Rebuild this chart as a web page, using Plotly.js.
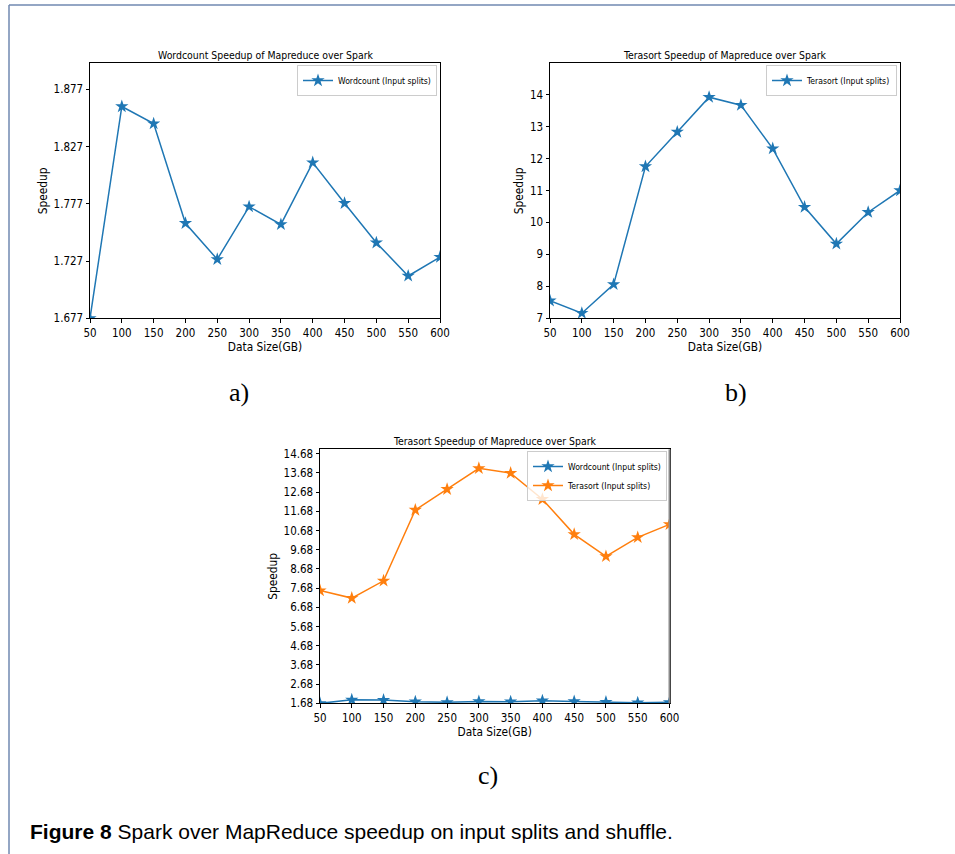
<!DOCTYPE html>
<html><head><meta charset="utf-8">
<script src="https://cdn.plot.ly/plotly-3.0.1.min.js"></script>
<style>html,body{margin:0;padding:0;background:#fff;}#chart{width:955px;height:854px;}</style>
</head><body><div id="chart"></div><script>
// ---- data ----
const dataSizes = [50, 100, 150, 200, 250, 300, 350, 400, 450, 500, 550, 600];
const wordcountSpeedup = [1.677, 1.862, 1.847, 1.760, 1.7285, 1.7745, 1.759, 1.813, 1.7775, 1.743, 1.714, 1.7305];
const terasortSpeedup = [7.55, 7.16, 8.06, 11.75, 12.83, 13.92, 13.67, 12.31, 10.48, 9.33, 10.32, 11.00];
const wordcountName = 'Wordcount (Input splits)';
const terasortName = 'Terasort (Input splits)';
const titleA = 'Wordcount Speedup of Mapreduce over Spark';
const titleB = 'Terasort Speedup of Mapreduce over Spark';
const titleC = 'Terasort Speedup of Mapreduce over Spark';
const xTitle = 'Data Size(GB)';
const yTitle = 'Speedup';
const caption = '<b>Figure 8</b> Spark over MapReduce speedup on input splits and shuffle.';
const panelLabels = ['a)', 'b)', 'c)'];

// ---- layout helpers ----
const W = 955, H = 854;
const px = v => v / W;
const py = v => 1 - v / H;
const blue = '#1f77b4', orange = '#ff7f0e';
const condensed = 'DejaVu Sans Condensed, DejaVu Sans';
const tickFont = {family: condensed, size: 11.5, color: '#000'};
const axTitleFont = {family: condensed, size: 11.8, color: '#000'};

function axis(domain, extra) {
  return Object.assign({
    domain: domain, showline: true, linecolor: '#000', linewidth: 1, mirror: true,
    ticks: 'outside', ticklen: 3.5, tickwidth: 1, tickcolor: '#000',
    showgrid: false, zeroline: false, tickfont: tickFont, fixedrange: true
  }, extra);
}
function xAx(domain, anchor) {
  return axis(domain, {anchor: anchor, range: [50, 600], tickvals: dataSizes,
    title: {text: xTitle, font: axTitleFont, standoff: 2}});
}
function yAx(domain, anchor, extra) {
  return axis(domain, Object.assign({anchor: anchor,
    title: {text: yTitle, font: axTitleFont, standoff: 3}}, extra));
}
function legendAt(rightPx, topPx) {
  return {x: px(rightPx), y: py(topPx), xanchor: 'right', yanchor: 'top',
    bgcolor: 'rgba(255,255,255,0.8)', bordercolor: '#cccccc', borderwidth: 1,
    font: {family: condensed, size: 8.6, color: '#000'}, itemwidth: 30, tracegroupgap: 0};
}
function series(y, name, color, xa, ya, leg) {
  return {x: dataSizes, y: y, name: name, type: 'scatter', mode: 'lines+markers',
    line: {color: color, width: 1.5}, marker: {symbol: 'star', size: 10, color: color},
    xaxis: xa, yaxis: ya, legend: leg, showlegend: true, cliponaxis: true};
}

const traces = [
  series(wordcountSpeedup, wordcountName, blue, 'x', 'y', 'legend'),
  series(terasortSpeedup, terasortName, blue, 'x2', 'y2', 'legend2'),
  series(wordcountSpeedup, wordcountName, blue, 'x3', 'y3', 'legend3'),
  series(terasortSpeedup, terasortName, orange, 'x3', 'y3', 'legend3')
];

const titleFont = {family: condensed, size: 10.4, color: '#000'};
const labelFont = {family: 'Liberation Serif', size: 26, color: '#000'};
function ann(text, x, y, font, xanchor) {
  return {text: text, x: px(x), y: py(y), xref: 'paper', yref: 'paper', showarrow: false,
    xanchor: xanchor || 'center', yanchor: 'middle', font: font};
}

const layout = {
  width: W, height: H, margin: {l: 0, r: 0, t: 0, b: 0},
  paper_bgcolor: '#fff', plot_bgcolor: '#fff',
  xaxis: xAx([px(90), px(440)], 'y'),
  yaxis: yAx([py(318.3), py(63.3)], 'x', {range: [1.677, 1.8997], tick0: 1.677, dtick: 0.05, tickformat: '.3f'}),
  xaxis2: xAx([px(550), px(900)], 'y2'),
  yaxis2: yAx([py(318.3), py(63.3)], 'x2', {range: [7, 14.98], tick0: 7, dtick: 1}),
  xaxis3: xAx([px(320), px(669.5)], 'y3'),
  yaxis3: yAx([py(703.3), py(449.3)], 'x3', {range: [1.68, 14.91], tick0: 1.68, dtick: 1, tickformat: '.2f'}),
  legend: legendAt(437, 65),
  legend2: legendAt(897, 65),
  legend3: legendAt(667, 451),
  annotations: [
    ann(titleA, 265, 55, titleFont),
    ann(titleB, 725, 55, titleFont),
    ann(titleC, 495, 440.7, titleFont),
    ann(panelLabels[0], 239, 393, labelFont),
    ann(panelLabels[1], 736, 393, labelFont),
    ann(panelLabels[2], 488, 775, labelFont),
    ann(caption, 28, 831, {family: 'Liberation Sans', size: 21, color: '#000'}, 'left')
  ],
  shapes: [
    {type: 'line', xref: 'paper', yref: 'paper', x0: px(9), x1: 1, y0: py(5), y1: py(5), line: {color: '#7089b0', width: 1.5}},
    {type: 'line', xref: 'paper', yref: 'paper', x0: px(9), x1: px(9), y0: py(5), y1: 0, line: {color: '#7089b0', width: 1.5}},
    {type: 'line', xref: 'x3 domain', yref: 'y3 domain', x0: 1, x1: 1, y0: 0, y1: 1, line: {color: '#8a8a8a', width: 2}}
  ]
};

Plotly.newPlot('chart', traces, layout, {displayModeBar: false, staticPlot: true});
</script></body></html>
